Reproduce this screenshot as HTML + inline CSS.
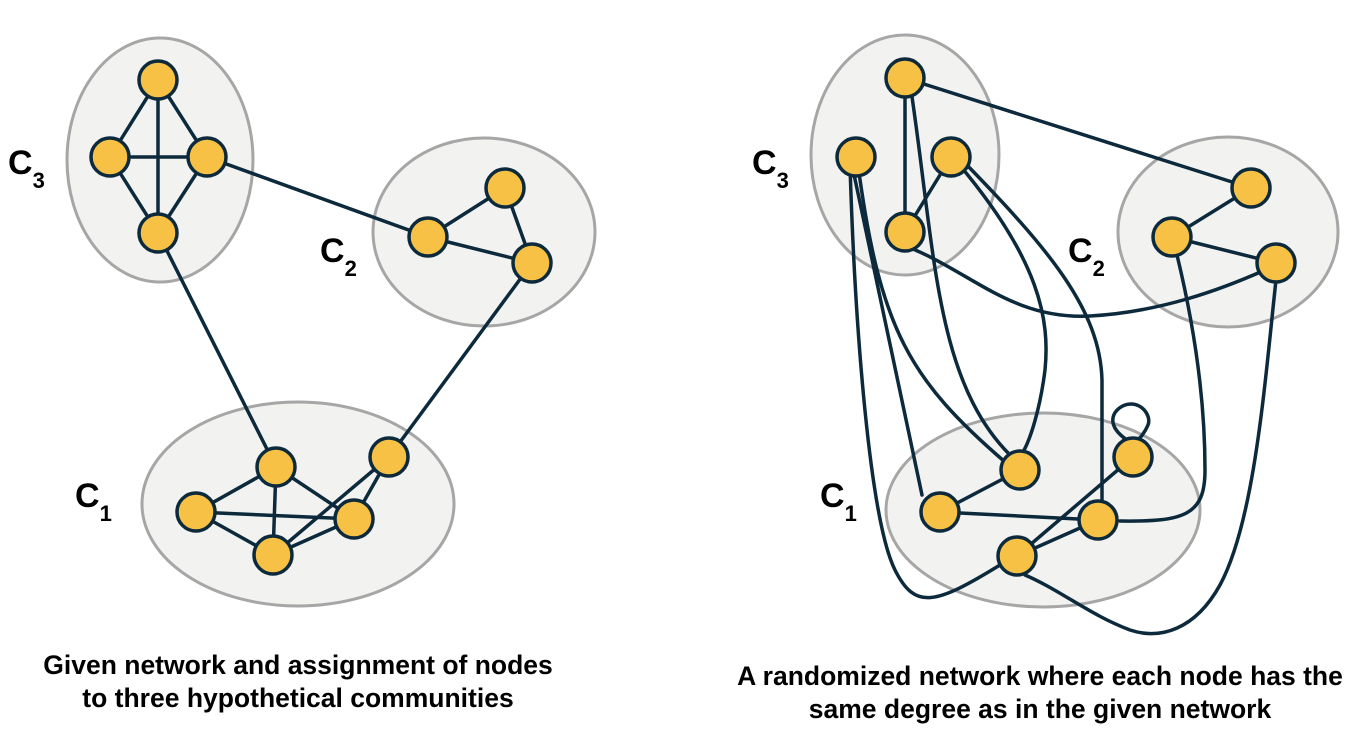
<!DOCTYPE html>
<html><head><meta charset="utf-8"><style>
html,body{margin:0;padding:0;background:#fff;}
svg{display:block;}
text{font-family:"Liberation Sans",Arial,sans-serif;font-weight:bold;fill:#000;}
</style></head><body>
<svg width="1360" height="743" viewBox="0 0 1360 743" xmlns="http://www.w3.org/2000/svg">
<g fill="#f2f2f1" stroke="#a6a6a6" stroke-width="3">
<ellipse cx="160" cy="160" rx="93" ry="122"/>
<ellipse cx="484" cy="232" rx="111" ry="94"/>
<ellipse cx="298" cy="504" rx="156" ry="102"/>
<ellipse cx="905" cy="155" rx="94" ry="120"/>
<ellipse cx="1228" cy="232" rx="110" ry="95"/>
<ellipse cx="1043" cy="510" rx="157" ry="97"/>
</g>
<g stroke="#0c2a3c" stroke-width="3.5" fill="none" stroke-linecap="round">
<line x1="158" y1="80" x2="110" y2="157"/>
<line x1="158" y1="80" x2="207" y2="157"/>
<line x1="158" y1="80" x2="158" y2="233"/>
<line x1="110" y1="157" x2="207" y2="157"/>
<line x1="110" y1="157" x2="158" y2="233"/>
<line x1="207" y1="157" x2="158" y2="233"/>
<line x1="207" y1="157" x2="428" y2="237"/>
<line x1="158" y1="233" x2="276" y2="467"/>
<line x1="428" y1="237" x2="505" y2="188"/>
<line x1="505" y1="188" x2="532" y2="263"/>
<line x1="428" y1="237" x2="532" y2="263"/>
<line x1="532" y1="263" x2="389" y2="457"/>
<line x1="196" y1="512" x2="276" y2="467"/>
<line x1="196" y1="512" x2="354" y2="519"/>
<line x1="196" y1="512" x2="273" y2="555"/>
<line x1="276" y1="467" x2="273" y2="555"/>
<line x1="276" y1="467" x2="354" y2="519"/>
<line x1="389" y1="457" x2="354" y2="519"/>
<line x1="389" y1="457" x2="273" y2="555"/>
<line x1="354" y1="519" x2="273" y2="555"/>
<line x1="905" y1="78" x2="905" y2="232"/>
<line x1="905" y1="78" x2="1251" y2="188"/>
<path d="M911 90 C935 250 935 380 1010 455"/>
<line x1="905" y1="232" x2="951" y2="157"/>
<path d="M903 245 C970 270 1010 320 1090 316 C1160 312 1220 290 1265 270"/>
<path d="M852 165 L922 495"/>
<path d="M858 165 C880 330 910 380 1005 462"/>
<path d="M850 165 C855 330 870 520 895 570 C915 610 935 605 1000 565"/>
<path d="M957 162 C1040 260 1050 320 1045 370 C1040 410 1030 440 1023 452"/>
<path d="M962 160 C1050 250 1100 310 1102 380 L1102 505"/>
<line x1="940" y1="512" x2="1020" y2="470"/>
<line x1="940" y1="512" x2="1098" y2="520"/>
<line x1="1017" y1="556" x2="1098" y2="520"/>
<line x1="1017" y1="556" x2="1133" y2="457"/>
<path d="M1127 440 C1105 425 1112 410 1125 405 C1140 400 1152 415 1148 425 C1145 432 1142 436 1138 440"/>
<line x1="1172" y1="237" x2="1251" y2="188"/>
<line x1="1172" y1="237" x2="1276" y2="263"/>
<path d="M1177 255 C1200 350 1205 420 1205 470 C1205 515 1185 522 1120 521"/>
<path d="M1276 280 C1265 380 1255 520 1220 585 C1195 630 1160 640 1130 630 C1090 615 1060 590 1025 575"/>
</g>
<g fill="#f6c145" stroke="#0c2a3c" stroke-width="3.5">
<circle cx="158" cy="80" r="19"/><circle cx="110" cy="157" r="19"/><circle cx="207" cy="157" r="19"/><circle cx="158" cy="233" r="19"/>
<circle cx="505" cy="188" r="19"/><circle cx="428" cy="237" r="19"/><circle cx="532" cy="263" r="19"/>
<circle cx="276" cy="467" r="19"/><circle cx="389" cy="457" r="19"/><circle cx="196" cy="512" r="19"/><circle cx="354" cy="519" r="19"/><circle cx="273" cy="555" r="19"/>
<circle cx="905" cy="78" r="19"/><circle cx="856" cy="157" r="19"/><circle cx="951" cy="157" r="19"/><circle cx="905" cy="232" r="19"/>
<circle cx="1251" cy="188" r="19"/><circle cx="1172" cy="237" r="19"/><circle cx="1276" cy="263" r="19"/>
<circle cx="1020" cy="470" r="19"/><circle cx="1133" cy="457" r="19"/><circle cx="940" cy="512" r="19"/><circle cx="1098" cy="520" r="19"/><circle cx="1017" cy="556" r="19"/>
</g>
<g font-size="34">
<text x="8" y="174">C<tspan font-size="22" dy="14">3</tspan></text>
<text x="320" y="262">C<tspan font-size="22" dy="14">2</tspan></text>
<text x="75" y="507">C<tspan font-size="22" dy="14">1</tspan></text>
<text x="752" y="174">C<tspan font-size="22" dy="14">3</tspan></text>
<text x="1068" y="262">C<tspan font-size="22" dy="14">2</tspan></text>
<text x="820" y="507">C<tspan font-size="22" dy="14">1</tspan></text>
</g>
<g font-size="26.5" text-anchor="middle">
<text x="298" y="674">Given network and assignment of nodes</text>
<text x="298" y="707">to three hypothetical communities</text>
<text x="1040" y="685">A randomized network where each node has the</text>
<text x="1040" y="718">same degree as in the given network</text>
</g>
</svg>
</body></html>
